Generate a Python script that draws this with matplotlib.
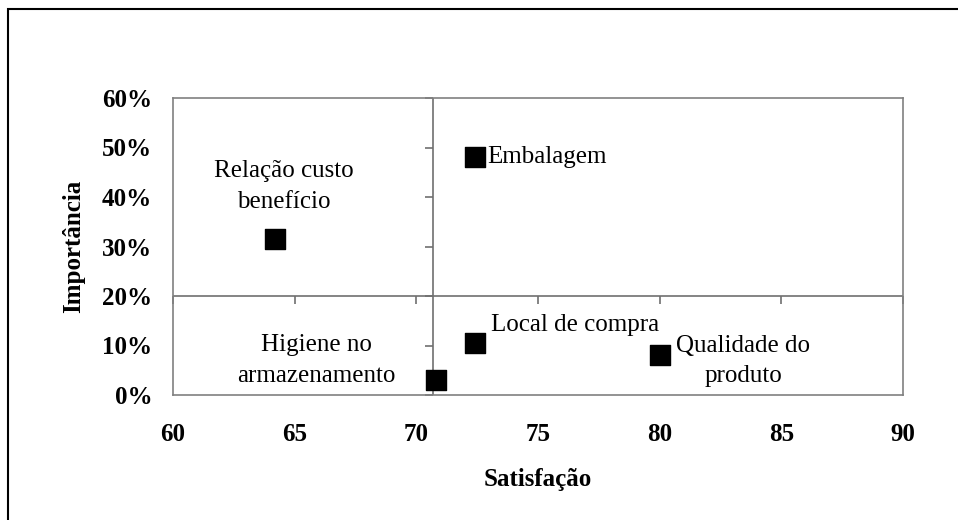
import matplotlib.pyplot as plt
import matplotlib.patches as patches
from matplotlib.ticker import PercentFormatter

# fatores avaliados: satisfação (nota) x importância (proporção)
fatores = ['Relação custo\nbenefício', 'Embalagem', 'Higiene no\narmazenamento',
           'Local de compra', 'Qualidade do\nproduto']
satisfacao = [64.2, 72.4, 70.8, 72.4, 80.0]
importancia = [0.315, 0.48, 0.03, 0.105, 0.08]

x_ticks = [60, 65, 70, 75, 80, 85, 90]
y_ticks = [0.0, 0.1, 0.2, 0.3, 0.4, 0.5, 0.6]

# onde os eixos se cruzam (quadrantes)
cruza_x = 70.7
cruza_y = 0.20

# deslocamento dos rótulos (pontos) e alinhamento
offsets = [(6, 38), (9, 0), (-86, 14), (12, 13), (60, -4)]
aligns = ['center', 'left', 'center', 'left', 'center']

plt.rcParams['font.family'] = ['Liberation Serif', 'DejaVu Serif']
AXIS_GRAY = '#808080'

fig = plt.figure(figsize=(9.58, 5.2), dpi=100)
ax = fig.add_axes([173 / 958, 125 / 520, 730 / 958, 297 / 520])

ax.set_xlim(60, 90)
ax.set_ylim(0, 0.6)
ax.set_xticks(x_ticks)
ax.set_yticks(y_ticks)
ax.yaxis.set_major_formatter(PercentFormatter(1.0, decimals=0))

for sp in ax.spines.values():
    sp.set_color(AXIS_GRAY)
    sp.set_linewidth(1.2)

ax.tick_params(axis='both', length=0, labelsize=18)
ax.tick_params(axis='x', pad=20)
ax.tick_params(axis='y', pad=15)
for lbl in ax.get_xticklabels() + ax.get_yticklabels():
    lbl.set_fontweight('bold')

# eixos cruzados no meio da área
ax.axhline(cruza_y, color='#707070', lw=1.2, zorder=2)
ax.axvline(cruza_x, color='#707070', lw=1.2, zorder=2)
ax.plot(x_ticks, [cruza_y] * len(x_ticks), ls='none',
        marker=3, ms=6, mew=1.2, color='#707070', clip_on=False, zorder=2)
ax.plot([cruza_x] * len(y_ticks), y_ticks, ls='none',
        marker=0, ms=6, mew=1.2, color='#707070', clip_on=False, zorder=2)

ax.scatter(satisfacao, importancia, marker='s', s=14 ** 2, color='black', zorder=3)

for nome, x, y, off, ha in zip(fatores, satisfacao, importancia, offsets, aligns):
    ax.annotate(nome, (x, y), xytext=off, textcoords='offset points',
                ha=ha, va='center', multialignment='center',
                fontsize=18, linespacing=1.5, zorder=4)

ax.set_xlabel('Satisfação', fontsize=18, fontweight='bold', labelpad=16)
ax.set_ylabel('Importância', fontsize=18, fontweight='bold', labelpad=12)

# moldura do gráfico
fig.patches.append(patches.Rectangle((8 / 958, -0.1), 1.1, 511 / 520 + 0.1,
                                     transform=fig.transFigure, fill=False,
                                     edgecolor='black', lw=1.5))

fig.savefig('out.png', dpi=100)
